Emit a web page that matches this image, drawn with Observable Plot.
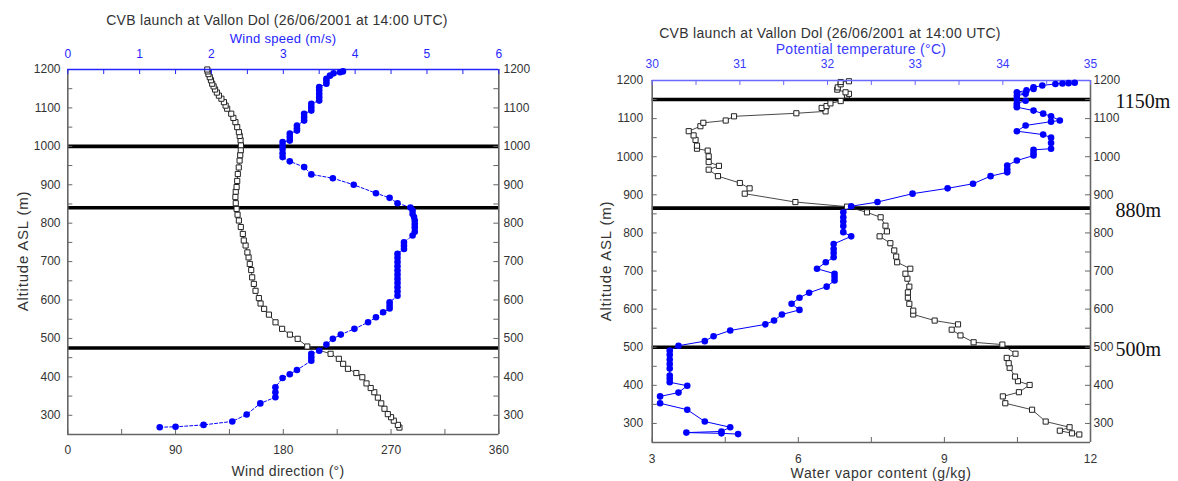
<!DOCTYPE html>
<html><head><meta charset="utf-8">
<script src="https://cdn.jsdelivr.net/npm/d3@7"></script>
<script src="https://cdn.jsdelivr.net/npm/@observablehq/plot@0.6"></script>
<style>
body{margin:0;background:#fff;font-family:"Liberation Sans",Arial,sans-serif;}
#root{position:relative;width:1178px;height:481px;overflow:hidden;background:#fff;}
.layer{position:absolute;top:0;}
.t{position:absolute;white-space:nowrap;transform:translate(-50%,-50%);font-size:14px;line-height:1;color:#333;letter-spacing:0.3px;}
</style></head><body><div id="root"></div>
<script>
// ---------- data ----------
const altDomain = [250, 1200];
const altTicks = [250,300,350,400,450,500,550,600,650,700,750,800,850,900,950,1000,1050,1100,1150,1200];
const altLabels = [300,400,500,600,700,800,900,1000,1100,1200];

// left panel: wind direction (open squares, bottom axis) and wind speed (blue dots, top axis)
const dirDomain = [0, 360];
const dirTicks = [0,45,90,135,180,225,270,315,360];
const dirLabels = [0,90,180,270,360];
const speedDomain = [0, 6];
const speedTicks = [0,0.5,1,1.5,2,2.5,3,3.5,4,4.5,5,5.5,6];
const speedLabels = [0,1,2,3,4,5,6];

const dirAlt = [268,275,286,295,303,317,331,346,360,371,383,399,410,421,434,447,460,479,499,510,525,542,562,577,591,605,624,642,659,678,694,711,724,742,755,772,790,807,822,837,852,868,882,894,910,928,945,963,977,990,1003,1016,1027,1037,1050,1063,1074,1085,1098,1106,1115,1124,1132,1140,1148,1156,1163,1172,1180,1188,1195,1200];
const dirVal = [277,275.7,272.3,270,267.3,264.5,261.8,259,256,253,249.5,246,241,234,230,226.4,219.5,200,192,185.5,179,173.5,168,164,161,159.6,156.8,155.4,154,153.2,152,151,150,148.5,147,146.2,144.5,142.9,141.8,141,140.3,140,140.3,141,141.5,142,142.8,143.5,144,144.5,144.6,144.3,143.6,142.9,141.5,140,138.3,136.5,133.1,131.8,130.4,128.3,126.2,124.5,123,121.8,120.6,119.6,118.6,117.5,116.8,116.5];

const speedAlt = [269,270,275,284,302,331,347,360,373,397,407,418,442,451,460,468,484,499,510,525,542,555,568,578,586,594,611,622,633,644,655,666,677,688,699,710,720,733,741,750,768,778,789,798,807,816,824,833,841,852,866,878,900,917,927,946,961,972,982,993,1002,1011,1015,1024,1033,1041,1047,1054,1067,1076,1085,1093,1102,1111,1119,1128,1137,1146,1154,1163,1170,1176,1184,1190,1193,1195];
const speedVal = [1.28,1.50,1.89,2.29,2.49,2.68,2.89,2.89,2.89,2.99,3.09,3.19,3.39,3.39,3.39,3.50,3.60,3.69,3.80,3.99,4.18,4.29,4.39,4.48,4.48,4.48,4.59,4.59,4.59,4.59,4.59,4.59,4.59,4.59,4.59,4.59,4.59,4.68,4.68,4.68,4.80,4.83,4.83,4.83,4.83,4.82,4.80,4.80,4.77,4.59,4.48,4.29,3.98,3.69,3.39,3.29,3.09,2.99,2.99,2.99,2.99,2.99,3.09,3.09,3.09,3.19,3.19,3.19,3.29,3.29,3.29,3.39,3.39,3.39,3.50,3.50,3.50,3.50,3.50,3.60,3.60,3.60,3.65,3.70,3.79,3.83];

const leftLevels = [1000, 840, 475];

// right panel: water vapor content (open squares, bottom axis) and potential temperature (blue dots, top axis)
const vaporDomain = [3, 12];
const vaporTicks = [3,4.5,6,7.5,9,10.5,12];
const vaporLabels = [3,6,9,12];
const thetaDomain = [30, 35];
const thetaTicks = [30,30.5,31,31.5,32,32.5,33,33.5,34,34.5,35];
const thetaLabels = [30,31,32,33,34,35];

const vaporAlt = [271,274,281,290,305,336,353,371,382,401,411,423,446,458,472,483,507,513,531,546,560,570,586,596,614,630,644,659,680,693,706,723,738,754,773,791,804,819,841,854,869,881,903,917,931,949,966,976,986,1001,1016,1021,1029,1044,1056,1067,1080,1089,1095,1106,1114,1119,1128,1133,1140,1146,1161,1165,1169,1176,1182,1190,1196,1198];
const vaporVal = [11.77,11.62,11.37,11.57,11.08,10.80,10.25,10.20,10.53,10.75,10.51,10.45,10.34,10.32,10.28,10.46,10.19,9.60,9.33,9.15,9.28,8.80,8.36,8.36,8.28,8.25,8.25,8.28,8.24,8.20,8.30,8.03,8.01,7.97,7.89,7.67,7.82,7.79,7.69,7.41,7.00,5.94,4.90,5.00,4.80,4.35,4.16,4.37,4.16,4.16,4.14,3.92,3.92,3.89,3.85,3.75,3.99,4.05,4.51,4.68,5.96,6.56,6.48,6.58,6.66,6.87,7.00,7.04,6.97,6.80,6.81,6.87,6.87,7.04];

const thetaAlt = [272,274,276,279,290,305,336,353,371,381,399,408,417,426,444,456,468,480,491,504,516,529,544,560,570,586,598,614,630,643,659,675,684,693,706,723,736,747,758,771,791,802,818,830,841,854,870,881,903,917,929,949,959,967,977,990,1003,1010,1018,1021,1036,1050,1058,1067,1082,1092,1095,1106,1113,1121,1130,1134,1140,1147,1152,1160,1165,1169,1174,1178,1182,1187,1191,1192,1193,1194];
const thetaVal = [30.98,30.79,30.39,30.79,30.89,30.60,30.40,30.09,30.09,30.30,30.40,30.20,30.20,30.20,30.20,30.20,30.20,30.20,30.20,30.30,30.60,30.70,30.89,31.29,31.39,31.48,31.68,31.59,31.68,31.79,31.99,32.08,32.08,32.08,31.88,31.98,32.07,32.07,32.07,32.07,32.27,32.18,32.18,32.18,32.18,32.18,32.27,32.57,32.97,33.37,33.66,33.86,34.05,34.05,34.05,34.16,34.35,34.35,34.35,34.55,34.55,34.55,34.46,34.16,34.26,34.55,34.65,34.55,34.46,34.35,34.16,34.16,34.16,34.26,34.16,34.16,34.26,34.16,34.27,34.35,34.35,34.45,34.60,34.68,34.75,34.82];

const rightLevels = [1150, 865, 500];
const rightLevelLabels = ["1150m", "880m", "500m"];

const titleText = "CVB launch at Vallon Dol (26/06/2001 at 14:00 UTC)";

// ---------- build ----------
const zip = (a, v) => a.map((alt, i) => ({alt, x: v[i]}));
const dirData = zip(dirAlt, dirVal);
const speedData = zip(speedAlt, speedVal);
const vaporData = zip(vaporAlt, vaporVal);
const thetaData = zip(thetaAlt, thetaVal);

const H = 481;
const FONT = "'Liberation Sans', Arial, sans-serif";
const AX = "#666", TX = "#333";
const fmt = d => String(d);
const root = document.getElementById("root");

function common(P) {
  return {width: P.width, height: H, marginLeft: P.mL, marginRight: P.mR, marginTop: P.mT, marginBottom: P.mB,
    style: {background: "transparent", fontFamily: FONT, color: TX, overflow: "visible"}};
}
function place(node, left) {
  const d = document.createElement("div");
  d.className = "layer"; d.style.left = left + "px";
  d.appendChild(node); root.appendChild(d);
}
function label(text, x, y, extra) {
  const d = document.createElement("div");
  d.className = "t"; d.textContent = text;
  d.style.left = x + "px"; d.style.top = y + "px";
  Object.assign(d.style, extra || {});
  root.appendChild(d);
}

function panel(P, cfg) {
  const W = P.width - P.mL - P.mR, PH = H - P.mT - P.mB;
  const base = Plot.plot({
    ...common(P),
    x: {domain: cfg.xDomain}, y: {domain: altDomain},
    marks: [
      Plot.ruleY(cfg.levels, {stroke: "#000", strokeWidth: 3.6}),
      Plot.line(cfg.sq, {x: "x", y: "alt", stroke: "#333", strokeWidth: 0.9}),
      Plot.dot(cfg.sq, {x: "x", y: "alt", symbol: "square", r: 2.9, stroke: "#222", fill: "white", strokeWidth: 1}),
      Plot.ruleX(cfg.xDomain, {stroke: AX, strokeWidth: 1.6}),
      Plot.ruleY([altDomain[0]], {stroke: AX, strokeWidth: 1.6}),
      Plot.tickX(cfg.xTicks, {x: d => d, insetTop: PH - 5, stroke: AX}),
      Plot.tickY(altTicks, {y: d => d, insetRight: W - 5, stroke: AX}),
      Plot.tickY(altTicks, {y: d => d, insetLeft: W - 5, stroke: AX}),
      Plot.axisX({anchor: "bottom", ticks: cfg.xLabels, tickFormat: fmt, tickSize: 0, tickPadding: cfg.padBottom, fontSize: 12, label: null, color: TX}),
      Plot.axisY({anchor: "left", ticks: altLabels, tickFormat: fmt, tickSize: 0, tickPadding: cfg.padLeft, fontSize: 12, label: null, color: TX}),
      Plot.axisY({anchor: "right", ticks: altLabels, tickFormat: fmt, tickSize: 0, tickPadding: cfg.padRight, fontSize: 12, label: null, color: TX}),
      ...(cfg.levelLabels ? [Plot.text(cfg.levels, {y: d => d, text: (d, i) => cfg.levelLabels[i], frameAnchor: "right", textAnchor: "start", dx: 25, dy: 2,
        fontFamily: "'Liberation Serif', 'Times New Roman', serif", fontSize: 20, fill: "#111"})] : [])
    ]
  });
  const over = Plot.plot({
    ...common(P),
    x: {domain: cfg.x2Domain}, y: {domain: altDomain, axis: null},
    marks: [
      Plot.ruleY([altDomain[1]], {stroke: cfg.topColor, strokeWidth: 1.6}),
      Plot.line(cfg.circ, {x: "x", y: "alt", stroke: "#0000ff", strokeWidth: 1, strokeDasharray: cfg.dash}),
      Plot.dot(cfg.circ, {x: "x", y: "alt", r: 3.3, fill: "#0000ff"}),
      Plot.tickX(cfg.x2Ticks, {x: d => d, insetBottom: PH - 5, stroke: cfg.topColor}),
      Plot.axisX({anchor: "top", ticks: cfg.x2Labels, tickFormat: fmt, tickSize: 0, tickPadding: cfg.padTop, fontSize: 12, label: null, color: cfg.topLabelColor})
    ]
  });
  place(base, P.left);
  place(over, P.left);
}

const LP = {left: 0, width: 590, mL: 67.3, mR: 91.7, mT: 69, mB: 47};
const RP = {left: 590, width: 588, mL: 61.7, mR: 88, mT: 80, mB: 39};

panel(LP, {xDomain: dirDomain, xTicks: dirTicks, xLabels: dirLabels, x2Domain: speedDomain, x2Ticks: speedTicks, x2Labels: speedLabels,
  sq: dirData, circ: speedData, levels: leftLevels, dash: "3,2", topColor: "#2424ff", topLabelColor: "#2424ff",
  padBottom: 11, padTop: 12, padLeft: 7.3, padRight: 4.7});
panel(RP, {xDomain: vaporDomain, xTicks: vaporTicks, xLabels: vaporLabels, x2Domain: thetaDomain, x2Ticks: thetaTicks, x2Labels: thetaLabels,
  sq: vaporData, circ: thetaData, levels: rightLevels, levelLabels: rightLevelLabels, dash: null, topColor: "#6a6aff", topLabelColor: "#3a3aff",
  padBottom: 12, padTop: 12.5, padLeft: 9, padRight: 3});

// texts
label(titleText, 277, 20);
label("Wind speed (m/s)", 283, 38, {color: "#2424ff", fontSize: "13px"});
label("Wind direction (°)", 288, 471);
label("Altitude ASL (m)", 22, 251, {transform: "translate(-50%,-50%) rotate(-90deg)", fontSize: "15px", letterSpacing: "0.8px"});
label(titleText, 830, 33);
label("Potential temperature (°C)", 861, 49, {color: "#3a3aff"});
label("Water vapor content (g/kg)", 881, 473, {letterSpacing: "0.6px"});
label("Altitude ASL (m)", 605, 261, {transform: "translate(-50%,-50%) rotate(-90deg)", fontSize: "15px", letterSpacing: "0.8px"});
</script></body></html>
